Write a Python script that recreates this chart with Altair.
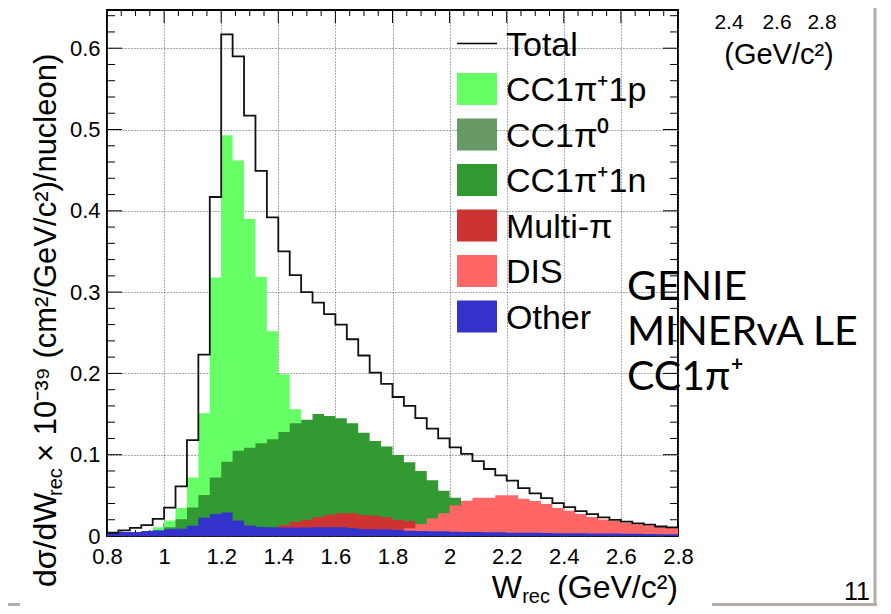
import altair as alt
import pandas as pd

# ---------------- data ----------------
bin_low = [round(0.8 + 0.04 * i, 2) for i in range(50)]
x_end = 2.8

total = [0.004, 0.007, 0.010, 0.0135, 0.021, 0.035, 0.061, 0.118, 0.223, 0.417,
         0.617, 0.590, 0.517, 0.449, 0.392, 0.350, 0.321, 0.300, 0.287, 0.273,
         0.260, 0.242, 0.222, 0.201, 0.187, 0.171, 0.160, 0.145, 0.132, 0.120,
         0.109, 0.101, 0.092, 0.0824, 0.0746, 0.068, 0.059, 0.0525, 0.0465, 0.0404,
         0.0355, 0.0305, 0.027, 0.023, 0.0198, 0.0176, 0.0156, 0.014, 0.0117, 0.0107]

cc1pip1p = [0.001, 0.002, 0.003, 0.006, 0.0107, 0.019, 0.0344, 0.072, 0.151, 0.318,
            0.493, 0.462, 0.390, 0.319, 0.252, 0.199, 0.156, 0.127, 0.102, 0.0885,
            0.0767, 0.066, 0.0606, 0.051, 0.043, 0.038, 0.035, 0.029, 0.024, 0.0207,
            0.016, 0.013, 0.011, 0.009, 0.007, 0.006, 0.005, 0.004, 0.0035, 0.003,
            0.0025, 0.002, 0.0018, 0.0015, 0.0012, 0.001, 0.001, 0.0008, 0.0007, 0.0006]

cc1pi0 = [0.0, 0.0, 0.0, 0.001, 0.002, 0.004, 0.006, 0.008, 0.010, 0.012,
          0.014, 0.016, 0.017, 0.018, 0.019, 0.020, 0.021, 0.022, 0.022, 0.022,
          0.021, 0.020, 0.019, 0.018, 0.017, 0.016, 0.015, 0.013, 0.012, 0.011,
          0.010, 0.009, 0.008, 0.007, 0.006, 0.005, 0.0045, 0.004, 0.0035, 0.003,
          0.0027, 0.0024, 0.0021, 0.0019, 0.0017, 0.0015, 0.0013, 0.0012, 0.001, 0.0009]

cc1pip1n = [0.0, 0.0, 0.001, 0.002, 0.005, 0.0107, 0.0205, 0.035, 0.0504, 0.072,
            0.0914, 0.105, 0.1087, 0.114, 0.119, 0.128, 0.1386, 0.143, 0.150, 0.1476,
            0.1447, 0.1386, 0.127, 0.1168, 0.110, 0.0996, 0.0906, 0.080, 0.0685, 0.0557,
            0.047, 0.040, 0.034, 0.028, 0.023, 0.019, 0.016, 0.013, 0.011, 0.009,
            0.007, 0.006, 0.005, 0.004, 0.0035, 0.003, 0.0025, 0.002, 0.002, 0.0015]

multipi = [0.0, 0.0, 0.0, 0.0, 0.0, 0.0, 0.0, 0.0, 0.0, 0.0,
           0.0, 0.0, 0.002, 0.005, 0.009, 0.0135, 0.0176, 0.020, 0.0234, 0.0262,
           0.0279, 0.0279, 0.0258, 0.025, 0.023, 0.0197, 0.0185, 0.014, 0.012, 0.010,
           0.008, 0.006, 0.005, 0.004, 0.003, 0.0025, 0.002, 0.0018, 0.0015, 0.0012,
           0.001, 0.001, 0.0008, 0.0007, 0.0006, 0.0005, 0.0005, 0.0004, 0.0004, 0.0003]

dis = [0.0, 0.0, 0.0, 0.0, 0.0, 0.0, 0.0, 0.0, 0.0, 0.0,
       0.0, 0.0, 0.0, 0.0, 0.0, 0.0, 0.0, 0.0, 0.0, 0.0,
       0.0, 0.0, 0.0, 0.001, 0.003, 0.006, 0.0094, 0.0148, 0.0217, 0.0279,
       0.0377, 0.0434, 0.047, 0.047, 0.050, 0.050, 0.0458, 0.043, 0.0395, 0.0345,
       0.031, 0.027, 0.0233, 0.0203, 0.0183, 0.0162, 0.0145, 0.0129, 0.0115, 0.0105]

other = [0.0045, 0.005, 0.005, 0.006, 0.007, 0.0085, 0.009, 0.0127, 0.0225, 0.027,
         0.029, 0.019, 0.013, 0.011, 0.0107, 0.0105, 0.0105, 0.0105, 0.0107, 0.0107,
         0.0107, 0.0094, 0.0086, 0.0082, 0.0082, 0.0074, 0.0066, 0.0062, 0.0057, 0.0057,
         0.0053, 0.005, 0.005, 0.0045, 0.0045, 0.004, 0.004, 0.004, 0.0037, 0.0035,
         0.0035, 0.0033, 0.003, 0.003, 0.003, 0.0028, 0.0027, 0.0025, 0.0022, 0.002]

legend_labels = ["Total", "CC1π⁺1p", "CC1π⁰", "CC1π⁺1n", "Multi-π", "DIS", "Other"]
fill_colors = ["#66ff66", "#669966", "#339933", "#cc3333", "#ff6666", "#3333cc"]

x_major = [0.8, 1.0, 1.2, 1.4, 1.6, 1.8, 2.0, 2.2, 2.4, 2.6, 2.8]
y_major = [0.0, 0.1, 0.2, 0.3, 0.4, 0.5, 0.6]

# ---------------- layout ----------------
FONT = "Liberation Sans"
W, H = 571, 526          # plot area
X0, Y0 = 107, 10         # page position of plot origin (page margin 8)

xscale = alt.Scale(domain=[0.8, 2.8], nice=False, zero=False)
yscale = alt.Scale(domain=[0, 0.647], nice=False, zero=True)

common_axis = dict(grid=True, gridDash=[1, 2], gridColor="#555555", gridWidth=1,
                   ticks=False, domain=False, labelFont=FONT, labelFontSize=22,
                   labelColor="black", labelFlush=False, labelOverlap=False,
                   format=".1~f", title=None)
x_axis = alt.Axis(values=x_major, labelPadding=10, **common_axis)
y_axis = alt.Axis(values=y_major, labelPadding=7, **common_axis)


def X(field="x"):
    return alt.X(f"{field}:Q", scale=xscale, axis=x_axis)


def Y(field="y"):
    return alt.Y(f"{field}:Q", scale=yscale, axis=y_axis)


def step_df(vals):
    return pd.DataFrame({"x": bin_low + [x_end], "y": list(vals) + [vals[-1]]})


layers = []

# ---- inner ticks (ROOT style) ----
x_minor = [round(0.8 + 0.05 * i, 2) for i in range(41)]
x_minor = [v for v in x_minor if round(v * 100) % 20 != 0]
y_minor = [round(0.02 * i, 2) for i in range(33)]
y_minor = [v for v in y_minor if round(v * 100) % 10 != 0]

for vals, ln in ((x_major, 13), (x_minor, 6)):
    d = pd.DataFrame({"x": vals})
    layers.append(alt.Chart(d).mark_rule(color="black", strokeWidth=1).encode(
        x=X(), y=alt.value(H), y2=alt.value(H - ln)))
    layers.append(alt.Chart(d).mark_rule(color="black", strokeWidth=1).encode(
        x=X(), y=alt.value(0), y2=alt.value(ln)))
for vals, ln in ((y_major, 15), (y_minor, 8)):
    d = pd.DataFrame({"y": vals})
    layers.append(alt.Chart(d).mark_rule(color="black", strokeWidth=1).encode(
        y=Y(), x=alt.value(0), x2=alt.value(ln)))
    layers.append(alt.Chart(d).mark_rule(color="black", strokeWidth=1).encode(
        y=Y(), x=alt.value(W), x2=alt.value(W - ln)))

# ---- overlaid histograms (each from zero, in ROOT draw order) ----
for vals, col in zip([cc1pip1p, cc1pi0, cc1pip1n, multipi, dis, other], fill_colors):
    layers.append(alt.Chart(step_df(vals)).mark_area(
        interpolate="step-after", color=col, opacity=1).encode(x=X(), y=Y()))

layers.append(alt.Chart(step_df(total)).mark_line(
    interpolate="step-after", color="#111111", strokeWidth=1.8).encode(x=X(), y=Y()))

# ---- legend (manual, ROOT style) ----
LEG_Y0 = 43.5 - Y0
LEG_DY = 45.5
leg = pd.DataFrame({
    "label": legend_labels,
    "yc": [LEG_Y0 + LEG_DY * i for i in range(len(legend_labels))],
})
leg["ytop"] = leg["yc"] - 16
leg["ybot"] = leg["yc"] + 16
leg["ybase"] = leg["yc"] + 12
box = leg.iloc[1:].copy()
box["col"] = fill_colors

layers.append(alt.Chart(leg.iloc[:1]).mark_rule(color="black", strokeWidth=1.5).encode(
    x=alt.value(457 - X0), x2=alt.value(497 - X0), y=alt.Y("yc:Q", scale=None)))
layers.append(alt.Chart(box).mark_rect().encode(
    x=alt.value(457 - X0), x2=alt.value(497 - X0),
    y=alt.Y("ytop:Q", scale=None), y2="ybot:Q",
    color=alt.Color("col:N", scale=None, legend=None)))
layers.append(alt.Chart(leg).mark_text(
    align="left", baseline="alphabetic", font=FONT, fontSize=34, color="black").encode(
    x=alt.value(506 - X0), y=alt.Y("ybase:Q", scale=None), text="label:N"))


# ---- texts ----
def txt(s, px, py, size, angle=0, align="left", font=FONT, color="black"):
    kw = dict(align=align, baseline="alphabetic", font=font, fontSize=size, color=color)
    if angle:
        kw["angle"] = angle
    return alt.Chart(pd.DataFrame({"t": [s]})).mark_text(**kw).encode(
        x=alt.value(px - X0), y=alt.value(py - Y0), text="t:N")


# y-axis title (rotated)
layers.append(txt("dσ/dW", 56, 587, 32, angle=270))
layers.append(txt("rec", 62, 496, 20, angle=270))
layers.append(txt("× 10⁻³⁹ (cm²/GeV/c²)/nucleon)", 56, 462, 31, angle=270))

# x-axis title
layers.append(txt("W", 522, 598, 32, align="right"))
layers.append(txt("rec", 550, 603, 20, align="right"))
layers.append(txt("(GeV/c²)", 678, 598, 32, align="right"))

# overlay text from the slide
for i, s in enumerate(["GENIE", "MINERvA LE", "CC1π⁺"]):
    layers.append(txt(s, 627, 300 + 45 * i, 41, font="Lato"))

# fragments of the neighbouring slide content
for s, cx in (("2.4", 729), ("2.6", 777), ("2.8", 822)):
    layers.append(txt(s, cx, 29, 21, align="center"))
layers.append(txt("(GeV/c²)", 779, 64, 29, align="center"))
layers.append(txt("11", 870, 600, 25, align="right"))

gray = "#b3aea7"
layers.append(alt.Chart(pd.DataFrame({"a": [0]})).mark_rule(color=gray, strokeWidth=3).encode(
    x=alt.value(875 - X0), y=alt.value(-Y0), y2=alt.value(606 - Y0)))
layers.append(alt.Chart(pd.DataFrame({"a": [0]})).mark_rule(color=gray, strokeWidth=3).encode(
    x=alt.value(712 - X0), x2=alt.value(877 - X0), y=alt.value(604.5 - Y0)))
layers.append(alt.Chart(pd.DataFrame({"a": [0]})).mark_rule(color=gray, strokeWidth=3).encode(
    x=alt.value(0 - X0), x2=alt.value(20 - X0), y=alt.value(604.5 - Y0)))

chart = alt.layer(*layers).properties(
    width=W, height=H,
    autosize=alt.AutoSizeParams(type="none"),
    padding={"left": X0 - 8, "top": Y0 - 8, "right": 883 - X0 - W, "bottom": 606 - Y0 - H},
    background="white",
).configure_view(stroke="black", strokeWidth=2)

chart.save("out.html", embed_options={"renderer": "svg", "actions": False})
